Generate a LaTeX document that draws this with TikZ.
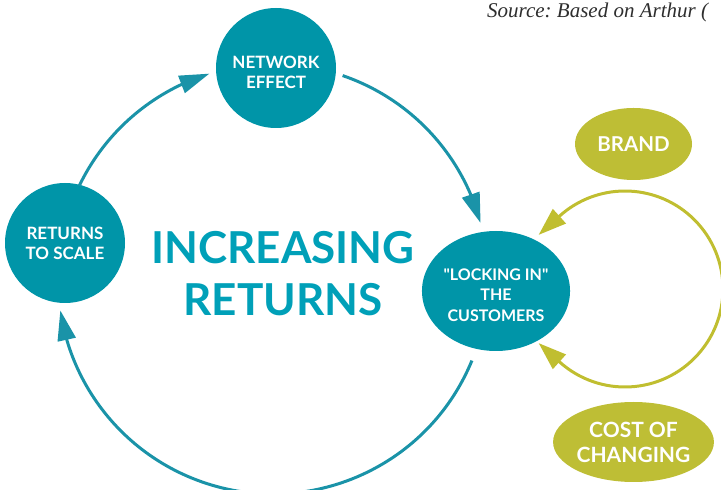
\documentclass[tikz,border=0pt]{standalone}
\usepackage{fontspec}
\setmainfont{Lato}[Ligatures=TeXOff]
\newfontfamily\srcfont{Liberation Serif}
\usetikzlibrary{arrows.meta,shapes.geometric,bending}
\definecolor{tealfill}{HTML}{0095A8}
\definecolor{tealarr}{HTML}{1A93A8}
\definecolor{tealtxt}{HTML}{00A0B8}
\definecolor{olivefill}{HTML}{BEBE35}
\definecolor{olivearr}{HTML}{C0BE30}
\frenchspacing
\begin{document}
\begin{tikzpicture}[x=1pt,y=1pt,
  tnode/.style={circle, fill=tealfill, text=white, inner sep=0pt, minimum size=120pt,
    align=center, font=\bfseries\fontsize{17}{20}\selectfont},
  lnode/.style={ellipse, fill=tealfill, text=white, inner sep=0pt, minimum width=136pt,
    minimum height=120pt, align=center, font=\bfseries\fontsize{16}{20.5}\selectfont},
  gnode/.style={ellipse, fill=olivefill, text=white, inner sep=0pt, align=center},
  tarr/.style={draw=tealarr, line width=3pt, -{Triangle[length=30pt,width=18pt,flex]}, color=tealarr},
  garr/.style={draw=olivearr, line width=3pt, color=olivearr,
    {Triangle[length=28pt,width=19pt]}-{Triangle[length=28pt,width=19pt]}}
]
\useasboundingbox (0,0) rectangle (721,490);
\clip (0,0) rectangle (721,490);

% nodes
\node[tnode] (ne) at (276,422) {\rule{0pt}{21pt}NETWORK\\EFFECT};
\node[tnode] (rts) at (65,247) {RETURNS\\TO SCALE};
\node[lnode] (lock) at (496,199) {\rule{0pt}{19.5pt}"LOCKING IN"\\THE\\CUSTOMERS};
\node[gnode, minimum width=117pt, minimum height=72pt,
  font=\bfseries\fontsize{20.5}{24}\selectfont] (brand) at (633.5,346) {BRAND};
\node[gnode, minimum width=147pt, minimum height=80pt,
  font=\bfseries\fontsize{21}{25}\selectfont] (cost) at (633.5,48) {COST OF\\CHANGING};
\node[text=tealtxt, align=center, inner sep=0pt,
  font=\bfseries\fontsize{44}{52}\selectfont] (title) at (283,216.5) {INCREASING\\RETURNS};
\node[anchor=base west, inner sep=0pt, text=black!82,
  font=\srcfont\itshape\fontsize{21}{24}\selectfont] (src) at (487,472) {Source: Based on Arthur (};

% teal cycle arcs
\coordinate (tc) at (273,211);
\draw[tarr] ([shift={(154.3:215)}]tc) arc[start angle=154.3, end angle=107.2, radius=215];
\draw[tarr] ([shift={(71.1:215)}]tc) arc[start angle=71.1, end angle=15.1, radius=215];
\draw[tarr] ([shift={(-22.3:215)}]tc) arc[start angle=-22.3, end angle=-171.6, radius=215];

% green loop
\coordinate (gc) at (625,201);
\draw[garr] ([shift={(-132:98)}]gc) ++(138:28) -- ++(-42:28)
  arc[start angle=-132, end angle=132, radius=98] -- ++(222:28);
\end{tikzpicture}
\end{document}
